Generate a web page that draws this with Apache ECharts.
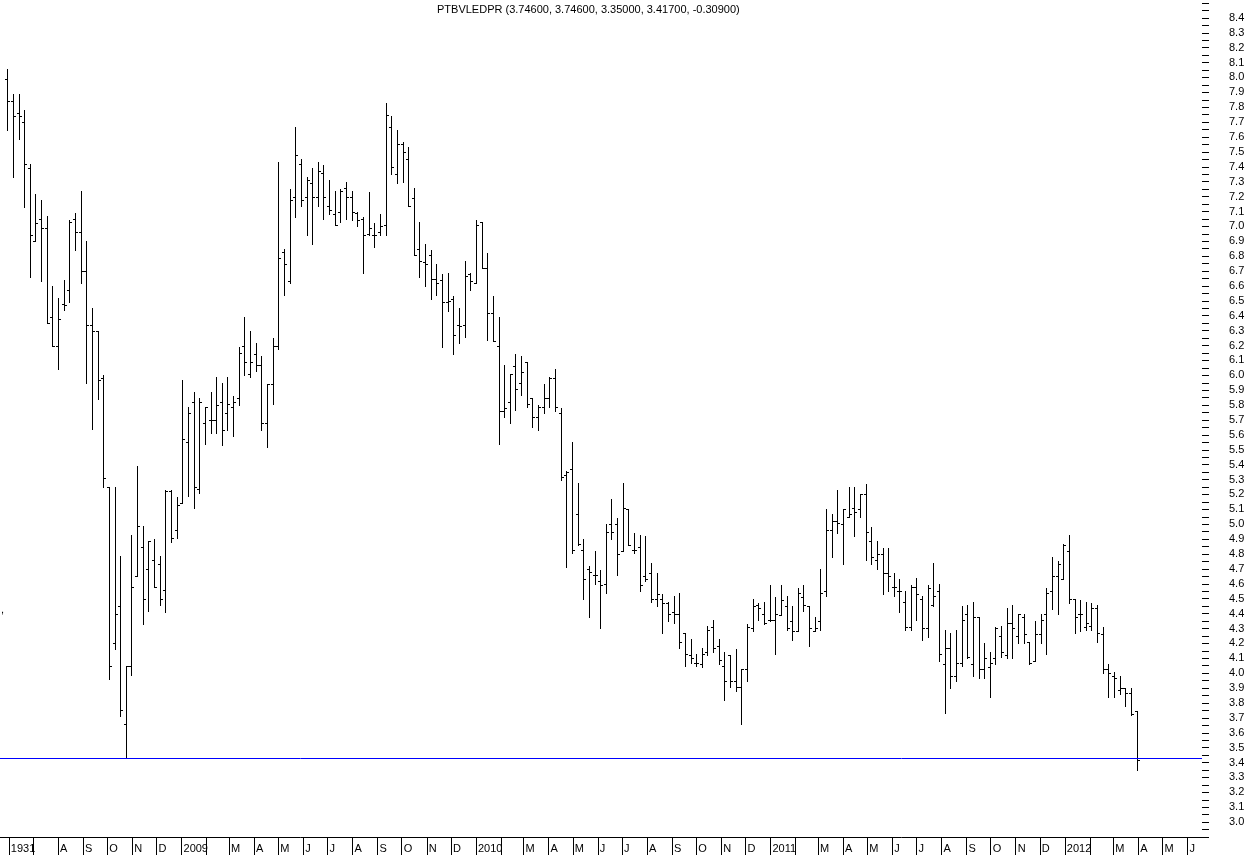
<!DOCTYPE html>
<html>
<head>
<meta charset="utf-8">
<script src="https://cdn.jsdelivr.net/npm/echarts@6/dist/echarts.min.js"></script>
<style>
html,body{margin:0;padding:0;background:#ffffff;}
#chart{width:1250px;height:855px;}
</style>
</head>
<body>
<div id="chart"></div>
<script>
// ---- data (weekly bars) ----
const symbolName = 'PTBVLEDPR';
const firstWeek = [2008, 4, 30];   // first weekly bar (UTC y, m0, d)
const supportLevel = 3.43;         // horizontal blue line

const open = [
7.99,7.84,7.76,7.70,7.39,6.90,7.05,6.99,6.39,6.20,6.48,6.57,7.05,6.96,6.70,6.34,6.30,5.98,
5.25,4.20,4.45,3.66,4.05,4.65,4.85,4.70,4.76,4.73,4.56,5.22,4.96,
5.14,5.55,5.82,5.24,5.68,5.70,5.70,5.82,5.75,5.79,5.85,6.20,6.01,6.14,6.07,5.68,5.94,6.20,6.83,6.63,
7.20,7.42,7.20,7.29,7.20,7.36,7.14,7.08,7.10,7.26,7.20,7.09,7.05,6.95,6.94,6.96,7.01,7.67,7.35,
7.55,7.45,7.19,6.85,6.76,6.81,6.65,6.64,6.49,6.51,6.34,6.34,6.68,6.62,7.03,6.72,6.42,6.20,5.76,5.82,
6.06,5.95,6.09,5.85,5.72,5.79,5.85,5.98,5.75,5.33,5.37,
5.07,4.83,4.70,4.66,4.62,4.60,5.00,5.00,4.82,5.10,4.83,4.85,4.65,4.67,4.50,4.50,4.47,4.41,4.40,4.27,
4.12,4.07,4.06,4.14,4.31,4.18,4.05,4.12,3.95,3.91,4.03,4.30,4.46,4.40,4.36,4.36,
4.39,4.45,4.35,4.28,4.51,4.45,4.28,4.35,4.55,4.96,5.02,5.00,5.05,5.11,5.10,5.20,4.89,4.76,4.80,4.67,
4.58,4.55,4.48,4.31,4.58,4.50,4.30,4.46,4.55,4.06,4.17,3.98,4.07,4.40,4.06,4.38,4.03,4.04,
4.10,4.25,4.12,4.34,4.25,4.38,4.21,4.08,4.26,4.40,4.55,4.65,4.63,4.82,4.50,4.40,4.31,4.32,4.44,4.26,
4.03,3.98,3.89,3.90,3.87,3.746
];
const high = [
8.06,7.89,7.89,7.78,7.42,7.22,7.18,7.07,6.60,6.52,6.64,7.04,7.09,7.24,6.90,6.45,6.30,6.00,
5.25,5.25,4.79,4.05,4.93,5.39,4.99,4.89,4.90,4.79,5.23,5.23,5.18,
5.97,5.79,5.89,5.85,5.79,5.89,5.99,5.95,5.99,5.86,6.19,6.39,6.30,6.22,6.13,5.94,6.25,7.43,6.85,7.25,
7.67,7.45,7.33,7.39,7.43,7.41,7.31,7.24,7.25,7.30,7.24,7.10,7.06,7.23,7.02,7.08,7.83,7.74,7.65,
7.57,7.53,7.26,7.03,6.88,6.84,6.75,6.68,6.69,6.53,6.45,6.77,6.69,7.04,7.03,6.82,6.53,6.39,6.07,6.01,
6.14,6.13,6.09,5.85,5.80,5.94,5.99,6.04,5.78,5.36,5.55,
5.28,4.90,4.72,4.82,4.69,5.00,5.17,5.04,5.28,5.10,4.94,4.93,4.92,4.74,4.67,4.53,4.48,4.52,4.54,4.27,
4.23,4.13,4.17,4.32,4.36,4.23,4.14,4.12,4.16,4.03,4.33,4.50,4.47,4.48,4.59,4.51,
4.59,4.52,4.45,4.57,4.59,4.45,4.38,4.70,5.10,5.07,5.23,5.10,5.25,5.25,5.20,5.27,4.98,4.89,4.84,4.84,
4.67,4.63,4.55,4.59,4.64,4.52,4.59,4.74,4.60,4.29,4.27,4.29,4.45,4.46,4.48,4.38,4.20,4.14,
4.31,4.32,4.44,4.46,4.40,4.40,4.21,4.35,4.40,4.57,4.78,4.75,4.87,4.93,4.50,4.49,4.48,4.47,4.46,4.31,
4.06,4.01,3.98,3.90,3.90,3.746
];
const low = [
7.65,7.33,7.59,7.13,6.66,6.90,6.63,6.35,6.20,6.04,6.44,6.49,6.84,6.62,5.95,5.64,5.84,5.25,
3.96,4.16,3.71,3.44,3.99,4.65,4.33,4.42,4.58,4.46,4.41,4.88,4.91,
5.14,5.19,5.11,5.21,5.54,5.61,5.61,5.53,5.63,5.59,5.80,6.00,5.99,6.03,5.63,5.52,5.81,6.18,6.54,6.62,
7.06,7.14,6.94,6.88,7.14,7.05,7.08,7.01,7.03,7.05,7.04,7.00,6.69,6.94,6.86,6.94,6.94,7.35,7.29,
7.30,7.14,6.81,6.66,6.60,6.51,6.54,6.19,6.43,6.14,6.22,6.26,6.57,6.62,6.72,6.24,6.23,5.54,5.72,5.68,
5.77,5.87,5.79,5.65,5.63,5.75,5.79,5.76,5.30,4.71,4.81,
4.86,4.50,4.38,4.60,4.30,4.54,4.90,4.66,4.82,4.86,4.81,4.55,4.62,4.48,4.45,4.27,4.35,4.34,4.17,4.05,
4.07,4.05,4.04,4.12,4.14,4.06,3.82,3.91,3.88,3.66,3.95,4.28,4.36,4.33,4.35,4.13,
4.39,4.29,4.22,4.28,4.42,4.18,4.28,4.29,4.52,4.78,4.94,4.73,5.05,4.92,5.05,4.76,4.73,4.70,4.53,4.55,
4.52,4.41,4.29,4.29,4.36,4.22,4.24,4.45,4.08,3.73,3.90,3.95,4.05,4.10,3.98,3.97,3.97,3.84,
4.06,4.11,4.10,4.10,4.20,4.20,4.06,4.08,4.20,4.13,4.43,4.40,4.63,4.47,4.27,4.28,4.29,4.29,4.21,4.00,
3.84,3.84,3.86,3.78,3.72,3.35
];
const close = [
7.84,7.74,7.74,7.42,6.94,7.02,6.99,6.35,6.20,6.38,6.47,7.03,6.96,6.70,6.34,6.30,5.97,5.31,
4.05,4.40,3.75,4.05,4.58,4.99,4.50,4.89,4.58,4.50,5.22,4.91,5.13,
5.57,5.75,5.25,5.82,5.79,5.70,5.80,5.63,5.81,5.82,6.15,6.09,6.09,6.07,5.68,5.94,6.20,6.79,6.75,7.18,
7.48,7.18,7.31,7.20,7.37,7.20,7.11,7.01,7.24,7.20,7.10,7.04,6.94,6.99,6.94,7.00,7.75,7.40,7.55,
7.50,7.14,6.81,6.77,6.75,6.65,6.62,6.49,6.50,6.27,6.33,6.67,6.63,7.01,6.72,6.42,6.23,5.76,5.78,6.01,
5.91,6.02,5.81,5.72,5.79,5.85,5.98,5.79,5.32,5.35,4.83,
4.87,4.63,4.68,4.66,4.59,4.95,4.95,4.80,5.11,4.86,4.83,4.59,4.63,4.50,4.53,4.47,4.40,4.40,4.21,4.13,
4.10,4.07,4.13,4.29,4.17,4.09,3.95,3.95,3.91,4.03,4.31,4.45,4.44,4.34,4.36,4.40,
4.49,4.30,4.28,4.54,4.46,4.30,4.30,4.54,4.96,5.02,5.01,5.10,5.07,5.08,5.20,4.95,4.78,4.80,4.67,4.65,
4.58,4.55,4.31,4.58,4.53,4.30,4.57,4.52,4.13,4.17,3.98,4.07,4.36,4.11,4.38,4.03,4.10,4.07,
4.30,4.14,4.34,4.30,4.40,4.26,4.07,4.26,4.36,4.54,4.65,4.73,4.86,4.50,4.38,4.40,4.34,4.44,4.27,4.03,
4.00,3.97,3.90,3.87,3.726,3.417
];

// month tick labels, one per month starting June 2008
const firstMonth = [2008, 5];
const monthLabels = [
'1931','','A','S','O','N','D',
'2009','','M','A','M','J','J','A','S','O','N','D',
'2010','','M','A','M','J','J','A','S','O','N','D',
'2011','','M','A','M','J','J','A','S','O','N','D',
'2012','','M','A','M','J'
];

// ---- build ----
const DAY = 86400000;
const t0 = Date.UTC(firstWeek[0], firstWeek[1], firstWeek[2]);
const bars = open.map((o, i) => [t0 + i * 7 * DAY, o, high[i], low[i], close[i]]);

const monthTs = monthLabels.map((_, i) => Date.UTC(firstMonth[0], firstMonth[1] + i, 1));
const labelByTs = {};
monthTs.forEach((t, i) => { labelByTs[t] = monthLabels[i]; });

const n = close.length;
const fmt = v => v.toFixed(5);
const titleText = symbolName + ' (' + fmt(open[n-1]) + ', ' + fmt(high[n-1]) + ', ' + fmt(low[n-1]) + ', ' +
  fmt(close[n-1]) + ', ' + fmt(close[n-1] - close[n-2]) + ')';

const FONT = "'Liberation Sans', Arial, sans-serif";

const chart = echarts.init(document.getElementById('chart'), null, {renderer: 'canvas'});
chart.setOption({
  animation: false,
  backgroundColor: '#ffffff',
  title: {
    text: titleText,
    left: 437, top: 4, padding: 0,
    textStyle: {fontSize: 11, fontWeight: 'normal', color: '#000', fontFamily: FONT}
  },
  graphic: [{
    type: 'text', left: 1, top: 604,
    style: {text: ',', fontSize: 11, fill: '#000', fontFamily: FONT}
  }],
  grid: {left: 0, right: 48, top: 3, bottom: 18, containLabel: false},
  xAxis: {
    type: 'value',
    min: Date.UTC(2008, 4, 21),
    max: Date.UTC(2012, 5, 19),
    axisLine: {show: true, lineStyle: {color: '#000', width: 1}},
    axisTick: {show: true, customValues: monthTs, length: 18, inside: false, lineStyle: {color: '#000'}},
    axisLabel: {
      show: true, customValues: monthTs, align: 'left', margin: 6, padding: [0, 0, 0, 2],
      color: '#000', fontSize: 11, fontFamily: FONT,
      formatter: v => (labelByTs[v] !== undefined ? labelByTs[v] : '')
    },
    splitLine: {show: false}
  },
  yAxis: {
    type: 'value',
    position: 'right',
    min: 2.9, max: 8.5, interval: 0.1,
    axisLine: {show: false},
    axisTick: {show: true, length: 7, lineStyle: {color: '#000'}},
    minorTick: {show: true, splitNumber: 2, length: 7, lineStyle: {color: '#000'}},
    axisLabel: {
      show: true, margin: 27, color: '#000', fontSize: 11, fontFamily: FONT,
      formatter: v => { const s = v.toFixed(1); return (s === '2.9' || s === '8.5') ? '' : s; }
    },
    splitLine: {show: false}
  },
  series: [{
    type: 'custom',
    name: symbolName,
    data: bars,
    encode: {x: 0, y: [1, 2, 3, 4]},
    silent: true,
    renderItem: function (params, api) {
      const t = api.value(0);
      const pH = api.coord([t, api.value(2)]);
      const pL = api.coord([t, api.value(3)]);
      const pO = api.coord([t, api.value(1)]);
      const pC = api.coord([t, api.value(4)]);
      const xi = Math.round(pH[0]);
      const yh = Math.round(pH[1]);
      const yl = Math.round(pL[1]);
      return {
        type: 'group',
        children: [
          {type: 'rect', shape: {x: xi, y: yh, width: 1, height: Math.max(1, yl - yh + 1)}, style: {fill: '#000'}},
          {type: 'rect', shape: {x: xi - 2, y: Math.round(pO[1]), width: 2, height: 1}, style: {fill: '#000'}},
          {type: 'rect', shape: {x: xi + 1, y: Math.round(pC[1]), width: 2, height: 1}, style: {fill: '#000'}}
        ]
      };
    },
    markLine: {
      silent: true,
      symbol: ['none', 'none'],
      label: {show: false},
      lineStyle: {color: '#0000ff', width: 1, type: 'solid'},
      emphasis: {disabled: true},
      data: [{yAxis: supportLevel}]
    }
  }]
});
</script>
</body>
</html>
